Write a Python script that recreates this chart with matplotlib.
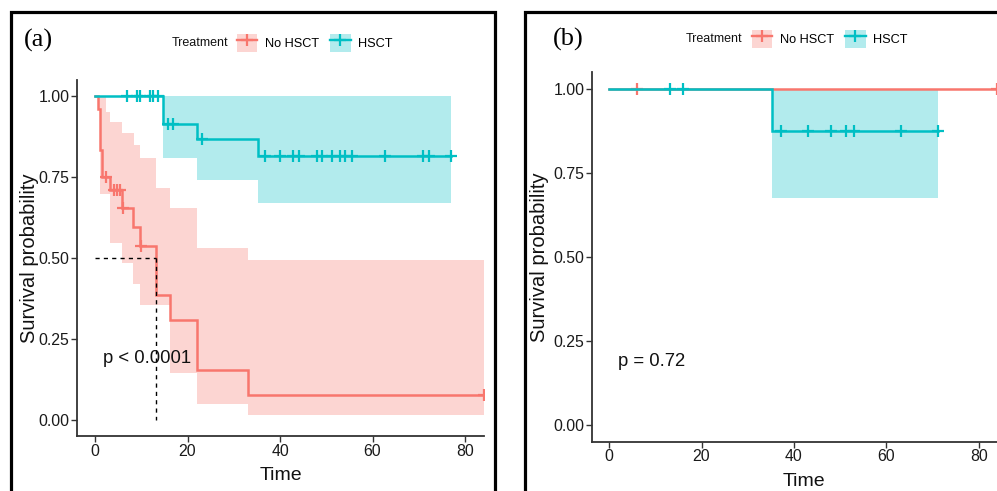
import matplotlib
matplotlib.use("Agg")
import matplotlib.pyplot as plt
from matplotlib.patches import Rectangle, Patch
from matplotlib.lines import Line2D
import numpy as np

plt.rcParams['font.family'] = ['Liberation Sans', 'DejaVu Sans']

# ---------------- data: panel (a) ----------------
groups = ["No HSCT", "HSCT"]
colors = {"No HSCT": "#F8766D", "HSCT": "#00BFC4"}

a_nohsct_times = [0, 0.7, 1.1, 1.4, 3.2, 5.9, 8.1, 9.7, 13.1, 16.2, 22.1, 33.1, 84]
a_nohsct_surv = [1.0, 0.958, 0.833, 0.750, 0.709, 0.655, 0.596, 0.537, 0.385, 0.308, 0.154, 0.077, 0.077]
a_nohsct_cens_t = [2.4, 4.0, 4.7, 5.3, 6.0, 9.9, 84]
a_nohsct_ci_t = [0.7, 1.1, 2.3, 3.2, 5.9, 8.1, 8.5, 9.7, 13.1, 16.2, 22.1, 33.1, 84]
a_nohsct_ci_up = [1.0, 1.0, 0.95, 0.918, 0.884, 0.884, 0.848, 0.807, 0.714, 0.655, 0.529, 0.493, 0.493]
a_nohsct_ci_lo = [0.955, 0.698, 0.698, 0.545, 0.483, 0.418, 0.418, 0.355, 0.355, 0.145, 0.049, 0.015, 0.015]

a_hsct_times = [0, 14.7, 22.0, 35.2, 77]
a_hsct_surv = [1.0, 0.913, 0.866, 0.815, 0.815]
a_hsct_cens_t = [7.0, 9.0, 9.7, 11.9, 12.6, 13.7, 15.8, 16.8, 23.1, 36.8, 40.0, 42.9, 44.0,
                 47.9, 49.0, 51.2, 53.0, 54.1, 55.5, 62.7, 71.0, 72.1, 77.0]
a_hsct_ci_t = [14.7, 22.0, 35.2, 77]
a_hsct_ci_up = [1.0, 1.0, 1.0, 1.0]
a_hsct_ci_lo = [0.807, 0.740, 0.668, 0.668]
a_median = 13.1
a_pval = "p < 0.0001"

# ---------------- data: panel (b) ----------------
b_nohsct_times = [0, 84]
b_nohsct_surv = [1.0, 1.0]
b_nohsct_cens_t = [6.0, 83.8]

b_hsct_times = [0, 35.3, 71.2]
b_hsct_surv = [1.0, 0.875, 0.875]
b_hsct_cens_t = [13.2, 16.1, 37.1, 43.1, 48.1, 51.2, 53.0, 63.1, 71.2]
b_hsct_ci_t = [35.3, 71.2]
b_hsct_ci_up = [1.0, 1.0]
b_hsct_ci_lo = [0.676, 0.676]
b_pval = "p = 0.72"

x_ticks = [0, 20, 40, 60, 80]
y_ticks = [0.00, 0.25, 0.50, 0.75, 1.00]
y_ticklabels = ["0.00", "0.25", "0.50", "0.75", "1.00"]

W, H = 997, 491
fig = plt.figure(figsize=(W / 100, H / 100), dpi=100)


def px_axes(left, right, top, bottom):
    return fig.add_axes([left / W, (H - bottom) / H, (right - left) / W, (bottom - top) / H])


def step_val(times, surv, t):
    idx = np.searchsorted(np.asarray(times), t, side='right') - 1
    idx = np.clip(idx, 0, len(surv) - 1)
    return np.asarray(surv)[idx]


def draw_km(ax, times, surv, cens, color, ci=None, fill_alpha=0.3):
    if ci is not None:
        ct, up, lo = ci
        ax.fill_between(ct, lo, up, step='post', color=color, alpha=fill_alpha, lw=0)
    ax.step(times, surv, where='post', color=color, lw=1.8, solid_joinstyle='miter')
    cy = [step_val(times, surv, t) for t in cens]
    ax.plot(cens, cy, ls='none', marker='+', ms=9, mew=1.6, color=color)


def style_axes(ax, xlim):
    ax.set_xlim(*xlim)
    ax.set_ylim(-0.05, 1.05)
    ax.set_xticks(x_ticks)
    ax.set_yticks(y_ticks)
    ax.set_yticklabels(y_ticklabels)
    for s in ['top', 'right']:
        ax.spines[s].set_visible(False)
    for s in ['left', 'bottom']:
        ax.spines[s].set_color('#333333')
        ax.spines[s].set_linewidth(1.3)
    ax.tick_params(direction='out', length=4, width=1.0, color='#333333',
                   labelsize=11.4, labelcolor='#1a1a1a', pad=1.5)
    ax.set_xlabel("Time", fontsize=14, labelpad=6, color='#111111')
    ax.set_ylabel("Survival probability", fontsize=14.5, color='#111111')


# ---------------- panel (a) ----------------
axa = px_axes(77, 484, 79.5, 436.2)
draw_km(axa, a_nohsct_times, a_nohsct_surv, a_nohsct_cens_t, colors["No HSCT"],
        ci=(a_nohsct_ci_t, a_nohsct_ci_up, a_nohsct_ci_lo))
draw_km(axa, a_hsct_times, a_hsct_surv, a_hsct_cens_t, colors["HSCT"],
        ci=(a_hsct_ci_t, a_hsct_ci_up, a_hsct_ci_lo))
axa.plot([0, a_median], [0.5, 0.5], color='black', ls=(0, (3, 3)), lw=1.0)
axa.plot([a_median, a_median], [0.5, 0.0], color='black', ls=(0, (3, 3)), lw=1.0)
axa.text(1.8, 0.19, a_pval, fontsize=13.3, va='center', ha='left', color='#111111')
style_axes(axa, (-3.9, 84.1))
axa.yaxis.set_label_coords(-0.094, 0.5)

# ---------------- panel (b) ----------------
axb = px_axes(591.9, 1016.9, 72.25, 441.75)
draw_km(axb, b_nohsct_times, b_nohsct_surv, b_nohsct_cens_t, colors["No HSCT"])
draw_km(axb, b_hsct_times, b_hsct_surv, b_hsct_cens_t, colors["HSCT"],
        ci=(b_hsct_ci_t, b_hsct_ci_up, b_hsct_ci_lo))
axb.text(1.9, 0.19, b_pval, fontsize=13.3, va='center', ha='left', color='#111111')
style_axes(axb, (-3.7, 88.2))
axb.yaxis.set_label_coords(-0.101, 0.5)

# ---------------- legends ----------------
def make_legend(x_title, x_keys, yc):
    fig.text(x_title / W, (H - yc) / H, "Treatment", fontsize=9, va='center', ha='left',
             color='#111111')
    handles = []
    for g in groups:
        handles.append((Patch(facecolor=colors[g], alpha=0.3, edgecolor='none'),
                        Line2D([], [], color=colors[g], lw=1.7, marker='+', ms=9, mew=1.6)))
    fig.legend(handles, groups, loc='center left', bbox_to_anchor=(x_keys / W, (H - yc) / H),
               ncol=2, frameon=False, fontsize=9.2, borderpad=0, borderaxespad=0,
               handlelength=1.6, handleheight=1.9, handletextpad=0.6, columnspacing=0.85)


make_legend(172, 237, 43)
make_legend(686, 752, 39)

# ---------------- panel labels and borders ----------------
fig.text(24 / W, (H - 40) / H, "(a)", fontsize=19, family=['Liberation Serif', 'DejaVu Serif'],
         va='center', ha='left')
fig.text(553 / W, (H - 39) / H, "(b)", fontsize=19, family=['Liberation Serif', 'DejaVu Serif'],
         va='center', ha='left')

fig.add_artist(Rectangle((10.5 / W, -0.1), (494.5 - 10.5) / W, (H - 11.5) / H + 0.1,
                         transform=fig.transFigure, fill=False, lw=2.3, ec='black'))
fig.add_artist(Rectangle((524.5 / W, -0.1), 1.0, (H - 11.5) / H + 0.1,
                         transform=fig.transFigure, fill=False, lw=2.3, ec='black'))

fig.savefig("out.png", dpi=100)
